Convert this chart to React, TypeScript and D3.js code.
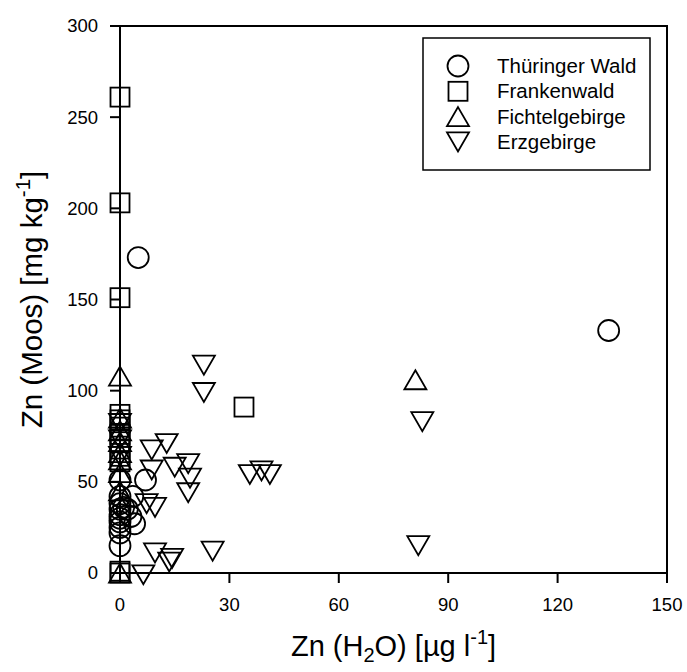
import React from "react";
import * as d3 from "d3";

const xTicks = [0, 30, 60, 90, 120, 150];
const yTicks = [0, 50, 100, 150, 200, 250, 300];

const seriesNames = ["Thüringer Wald", "Frankenwald", "Fichtelgebirge", "Erzgebirge"];

const thuringerX = [5, 134, 0, 7, 0, 3.5, 0, 0, 0, 0, 0, 0, 3, 2, 1, 0, 0, 4];
const thuringerY = [173, 133, 51, 51, 42, 42, 38, 35, 32, 30, 28, 25, 31, 35, 36, 22, 15, 27];

const frankenX = [0, 0, 0, 34, 0, 0, 0, 0, 0, 0, 0, 0, 0, 0];
const frankenY = [261, 203, 151, 91, 87, 84, 80, 76, 72, 68, 64, 61, 1, 0];

const fichtelX = [0, 81, 0, 0, 0, 0, 0, 0, 0, 0];
const fichtelY = [108, 106, 85, 78, 72, 66, 62, 55, 45, 0];

const erzX = [23, 23, 12.8, 8.7, 8.7, 15, 18.7, 19.2, 18.7, 7.3, 9.6, 9.6, 14.3, 13.5, 6.4, 25.4, 35.6, 38.8, 41.1, 82.9, 81.8, 0, 0, 0];
const erzY = [114, 99, 71, 67.5, 56.5, 58, 60, 52, 44, 38, 36, 11, 8, 6, -1, 12, 54, 56, 54, 83, 15, 82, 73, 64];

const W = 687;
const H = 672;
const FONT = "'Liberation Sans', Arial, sans-serif";

type Shape = "circle" | "square" | "up" | "down";

function Marker({ shape, cx, cy }: { shape: Shape; cx: number; cy: number }) {
  const common = { fill: "none", stroke: "#000", strokeWidth: 1.8 };
  if (shape === "circle") return <circle cx={cx} cy={cy} r={10.5} {...common} />;
  if (shape === "square") return <rect x={cx - 9.5} y={cy - 9.5} width={19} height={19} {...common} />;
  const hw = 11, hh = 9.5;
  if (shape === "up")
    return <path d={`M${cx},${cy - hh}L${cx + hw},${cy + hh}L${cx - hw},${cy + hh}Z`} {...common} />;
  return <path d={`M${cx - hw},${cy - hh}L${cx + hw},${cy - hh}L${cx},${cy + hh}Z`} {...common} />;
}

export default function App() {
  const x = d3.scaleLinear().domain([0, 150]).range([120, 667]);
  const y = d3.scaleLinear().domain([0, 300]).range([573, 26]);

  const series: { shape: Shape; xs: number[]; ys: number[] }[] = [
    { shape: "circle", xs: thuringerX, ys: thuringerY },
    { shape: "square", xs: frankenX, ys: frankenY },
    { shape: "up", xs: fichtelX, ys: fichtelY },
    { shape: "down", xs: erzX, ys: erzY },
  ];

  const legendShapes: Shape[] = ["circle", "square", "up", "down"];

  return (
    <svg width={W} height={H} style={{ position: "absolute", left: 0, top: 0, background: "#fff" }} fontFamily={FONT}>
      <rect x={0} y={0} width={W} height={H} fill="#fff" />
      {/* frame */}
      <rect x={x(0)} y={y(300)} width={x(150) - x(0)} height={y(0) - y(300)} fill="none" stroke="#000" strokeWidth={2} />
      {/* x ticks */}
      {xTicks.map((t) => (
        <g key={"xt" + t}>
          <line x1={x(t)} x2={x(t)} y1={y(0)} y2={y(0) + 10} stroke="#000" strokeWidth={2} />
          <text x={x(t)} y={y(0) + 38} textAnchor="middle" fontSize={18.5}>{t}</text>
        </g>
      ))}
      {yTicks.map((t) => (
        <g key={"yt" + t}>
          <line x1={x(0) - 10} x2={x(0)} y1={y(t)} y2={y(t)} stroke="#000" strokeWidth={2} />
          <text x={x(0) - 22} y={y(t)} dy="0.35em" textAnchor="end" fontSize={18.5}>{t}</text>
        </g>
      ))}
      {/* markers */}
      {series.map((s, si) =>
        s.xs.map((v, i) => <Marker key={si + "-" + i} shape={s.shape} cx={x(v)} cy={y(s.ys[i])} />)
      )}
      {/* legend */}
      <rect x={423} y={38} width={227} height={132} fill="#fff" stroke="#000" strokeWidth={1.5} />
      {seriesNames.map((n, i) => (
        <g key={n}>
          <Marker shape={legendShapes[i]} cx={458} cy={66 + i * 25.3} />
          <text x={497} y={66 + i * 25.3} dy="0.35em" fontSize={20.5}>{n}</text>
        </g>
      ))}
      {/* axis titles */}
      <text x={(x(0) + x(150)) / 2} y={656} textAnchor="middle" fontSize={29}>
        Zn (H<tspan fontSize={20} dy={6}>2</tspan><tspan dy={-6}>O) [µg l</tspan><tspan fontSize={20} dy={-12}>-1</tspan><tspan dy={12}>]</tspan>
      </text>
      <text transform={`translate(42,${(y(0) + y(300)) / 2}) rotate(-90)`} textAnchor="middle" fontSize={29.5}>
        Zn (Moos) [mg kg<tspan fontSize={20.5} dy={-12}>-1</tspan><tspan dy={12}>]</tspan>
      </text>
    </svg>
  );
}
